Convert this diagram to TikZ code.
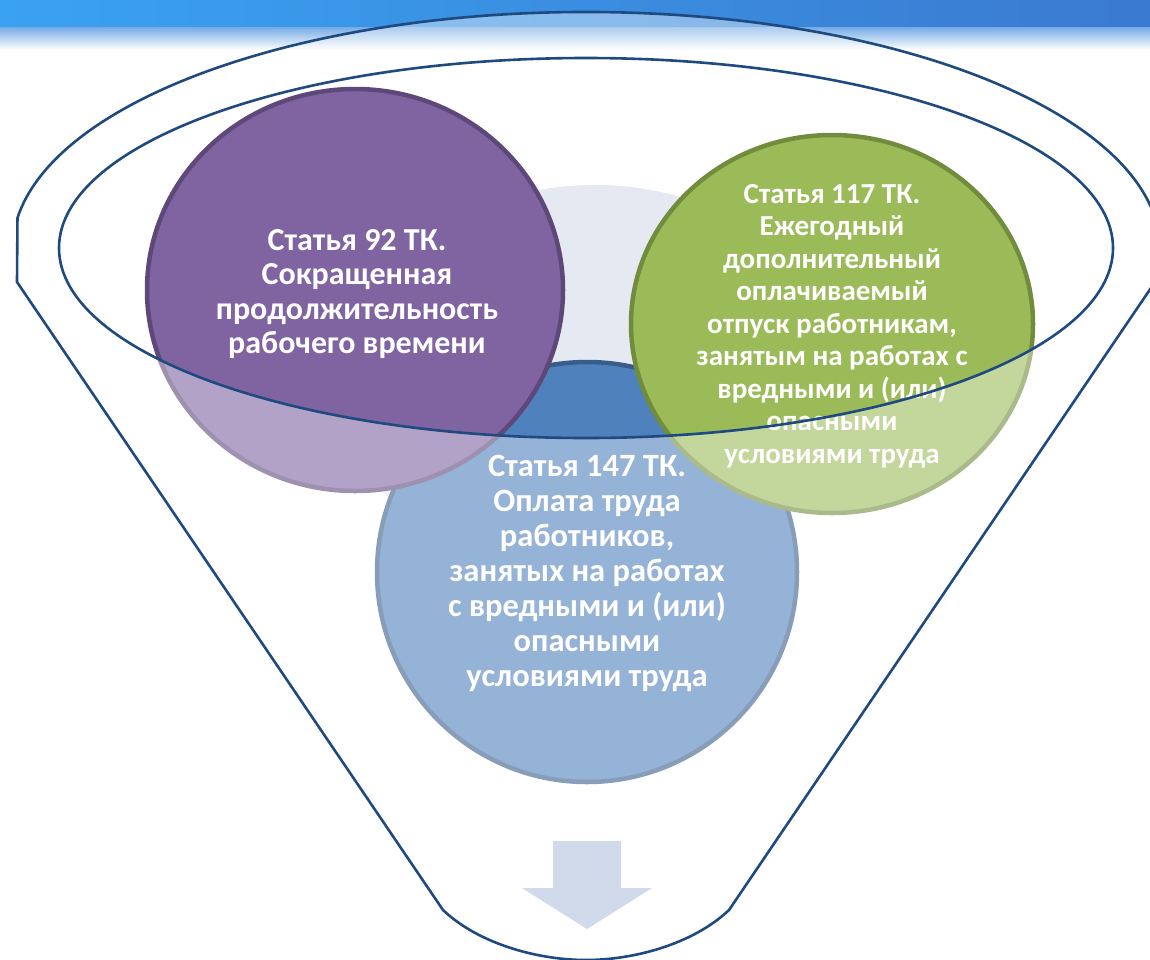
\documentclass[tikz,border=0pt]{standalone}
\usepackage{fontspec}
\setmainfont{Carlito}
\usetikzlibrary{shapes.geometric}
\definecolor{bannerL}{RGB}{58,162,242}
\definecolor{bannerR}{RGB}{58,122,208}
\definecolor{bannerM}{RGB}{120,172,230}
\definecolor{lightbg}{RGB}{228,233,242}
\definecolor{purpleF}{RGB}{128,100,162}
\definecolor{purpleD}{RGB}{94,72,122}
\definecolor{blueF}{RGB}{79,129,189}
\definecolor{blueD}{RGB}{56,93,138}
\definecolor{greenF}{RGB}{155,187,89}
\definecolor{greenD}{RGB}{114,140,62}
\definecolor{funnelline}{RGB}{31,74,128}
\definecolor{arrowF}{RGB}{208,218,234}
\tikzset{
  circ/.style={ellipse, line width=4.5pt, inner sep=0pt},
  lbl/.style={text=white, align=center, font=\bfseries\fontsize{32}{34.5}\selectfont},
  lblblue/.style={text=white, align=center, font=\bfseries\fontsize{32.5}{35}\selectfont},
  lblsmall/.style={text=white, align=center, font=\bfseries\fontsize{29}{32.5}\selectfont},
  funnel/.style={draw=funnelline, line width=2.6pt, line join=round},
  glass/.style={fill=white, fill opacity=0.4, even odd rule}
}
\begin{document}
\begin{tikzpicture}[x=1pt,y=-1pt]
\useasboundingbox (0,0) rectangle (1150,959);
% banner
\shade[left color=bannerL, right color=bannerR] (0,0) rectangle (1150,28);
\shade[top color=bannerM, bottom color=white] (0,27.5) rectangle (1150,50);
% light background shape
\fill[lightbg] (595,385) ellipse[x radius=250, y radius=200];
% circles
\node[circ, fill=blueF, draw=blueD, minimum width=420pt, minimum height=420pt] (c147) at (587,572) {};
\node[circ, fill=purpleF, draw=purpleD, minimum width=416pt, minimum height=402pt] (c92) at (355,290) {};
\node[circ, fill=greenF, draw=greenD, minimum width=402pt, minimum height=378pt] (c117) at (832,324) {};
% labels
\node[lbl] (t92) at (357,294) {Статья 92 ТК.\\Сокращенная\\продолжительность\\рабочего времени};
\node[lblblue] (t147) at (587,573) {Статья 147 ТК.\\Оплата труда\\работников,\\занятых на работах\\с вредными и (или)\\опасными\\условиями труда};
\node[lblsmall] (t117) at (832,326) {Статья 117 ТК.\\Ежегодный\\дополнительный\\оплачиваемый\\отпуск работникам,\\занятым на работах с\\вредными и (или)\\опасными\\условиями труда};
% glass overlay of funnel body
\path[glass] (17,282) -- (443,910) .. controls (480,945) and (540,960) .. (586,960)
  .. controls (632,960) and (692,945) .. (729,910) -- (1155,282)
  arc[start angle=7.73, end angle=-172.27, x radius=574, y radius=238] -- cycle
  (586,248) ellipse[x radius=527, y radius=190];
% arrow
\fill[arrowF] (553,841) -- (621,841) -- (621,888) -- (652,888) -- (587,929) -- (522,888) -- (553,888) -- cycle;
% funnel outlines
\draw[funnel] (17,282) -- (443,910) .. controls (480,945) and (540,960) .. (586,960)
  .. controls (632,960) and (692,945) .. (729,910) -- (1155,282)
  arc[start angle=7.73, end angle=-172.27, x radius=574, y radius=238] -- cycle;
\draw[funnel] (586,248) ellipse[x radius=527, y radius=190];
\end{tikzpicture}
\end{document}
